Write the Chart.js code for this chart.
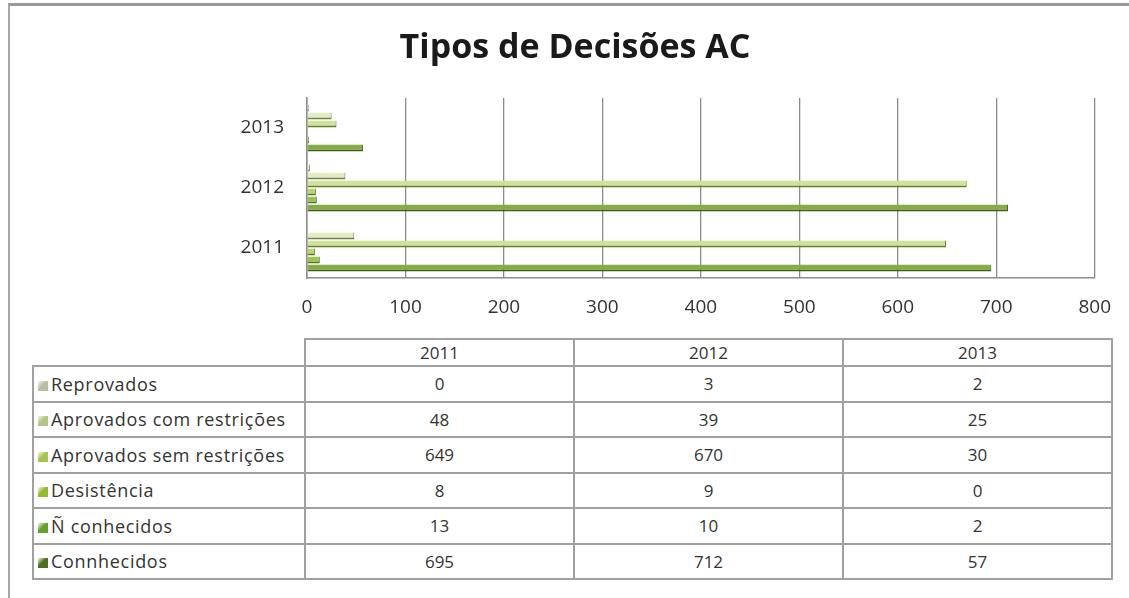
<!DOCTYPE html>
<html>
<head>
<meta charset="utf-8">
<script src="https://cdn.jsdelivr.net/npm/chart.js@4/dist/chart.umd.min.js"></script>
<style>
  html, body { margin: 0; padding: 0; background: #fff; }
  body { width: 1129px; height: 598px; position: relative; overflow: hidden; font-family: 'Open Sans', sans-serif; }
  .frame { position: absolute; left: 8px; top: 3px; width: 1130px; height: 620px;
           border-left: 2px solid #a8a8a8; border-top: 3px solid #9a9a9a; }
  #wrap { position: absolute; left: 0; top: 0; width: 1129px; height: 330px; }
  table { position: absolute; left: 32px; top: 338px; border-collapse: collapse; color: #333; font-size: 17px; }
  td, th { border: 2px solid #a0a0a0; padding: 0; font-weight: normal; }
  th { height: 25px; text-align: center; width: 267px; }
  th.blank { border-top: none; border-left: none; width: 271px; }
  td { height: 33.5px; text-align: center; }
  td.name { text-align: left; padding-left: 4px; white-space: nowrap; font-size: 18px; letter-spacing: 0.7px; }
  .key { display: inline-block; width: 10px; height: 10px; margin-right: 3px; vertical-align: 0px; }
</style>
</head>
<body>
<div class="frame"></div>
<div id="wrap"><canvas id="chart" width="1129" height="330"></canvas></div>
<table id="tbl"></table>
<script>
// data
const years = ['2011', '2012', '2013'];
const seriesNames = ['Reprovados', 'Aprovados com restrições', 'Aprovados sem restrições', 'Desistência', 'Ñ conhecidos', 'Connhecidos'];
const reprovados = [0, 3, 2];
const aprovadosCom = [48, 39, 25];
const aprovadosSem = [649, 670, 30];
const desistencia = [8, 9, 0];
const naoConhecidos = [13, 10, 2];
const conhecidos = [695, 712, 57];
const xTicks = [0, 100, 200, 300, 400, 500, 600, 700, 800];

const fills = ['#eef3e2', '#e2edc4', '#cfe39a', '#b7d46e', '#9cc252', '#86ad45'];
const edges = ['#8a8f7a', '#6f7f4a', '#5f7f2a', '#587a22', '#4f7420', '#3f5c17'];
const keys = ['#b9bda5', '#b3c584', '#a2c552', '#93bd2f', '#64a12a', '#4e6e21'];

const allSeries = [reprovados, aprovadosCom, aprovadosSem, desistencia, naoConhecidos, conhecidos];

const datasets = allSeries.map((vals, i) => ({
  label: seriesNames[i],
  data: vals,
  backgroundColor: fills[i],
  borderColor: edges[i],
  borderWidth: { top: 0, right: 1, bottom: 2, left: 0 },
  borderSkipped: false,
  categoryPercentage: 0.8,
  barPercentage: 0.85
}));

const textColor = '#333';
new Chart(document.getElementById('chart'), {
  type: 'bar',
  data: { labels: years, datasets },
  options: {
    indexAxis: 'y',
    responsive: false,
    animation: false,
    layout: { padding: { left: 53, right: 32, top: 0, bottom: 12.6 } },
    plugins: {
      legend: { display: false },
      tooltip: { enabled: false },
      title: {
        display: true,
        text: 'Tipos de Decisões AC',
        color: '#1a1a1a',
        font: { family: 'Open Sans', size: 34, weight: 'bold' },
        padding: { top: 27.6, bottom: 29.6 }
      }
    },
    scales: {
      x: {
        min: 0, max: 800,
        afterBuildTicks: s => { s.ticks = xTicks.map(v => ({ value: v })); },
        afterFit: s => { s.height = 39.4; },
        grid: { color: '#8c8c8c', lineWidth: 1.3, drawTicks: false },
        border: { display: true, color: '#8c8c8c', width: 1.5 },
        ticks: { color: textColor, padding: 18, maxRotation: 0, font: { family: 'Open Sans', size: 19 } }
      },
      y: {
        reverse: true,
        afterFit: s => { s.width = 254; },
        grid: { display: false, drawTicks: false },
        border: { display: true, color: '#8c8c8c', width: 1.5 },
        ticks: { color: textColor, padding: 23, font: { family: 'Open Sans', size: 19 } }
      }
    }
  }
});

// data table under the chart
const tbl = document.getElementById('tbl');
let html = '<tr><th class="blank"></th>' + years.map(y => '<th>' + y + '</th>').join('') + '</tr>';
seriesNames.forEach((name, i) => {
  html += '<tr><td class="name"><span class="key" style="background:linear-gradient(135deg,#f4f7ea,' + keys[i] + ' 45%,' + keys[i] + ')"></span>' + name + '</td>' +
    allSeries[i].map(v => '<td>' + v + '</td>').join('') + '</tr>';
});
tbl.innerHTML = html;
</script>
</body>
</html>
